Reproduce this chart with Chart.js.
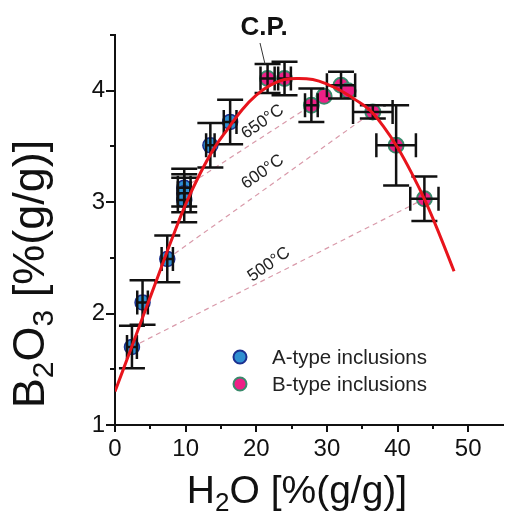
<!DOCTYPE html>
<html>
<head>
<meta charset="utf-8">
<script src="https://cdn.jsdelivr.net/npm/chart.js@4/dist/chart.umd.min.js"></script>
<style>
  html, body { margin:0; padding:0; background:#fff; }
  #wrap { width:513px; height:515px; }
</style>
</head>
<body>
<div id="wrap"><canvas id="c" width="513" height="515"></canvas></div>
<script>
// fitted curve
const curveX = [0,2,4,6,8,10,12,14,16,18,20,22,24,26,28,30,32,34,36,38,40,42,44,46,48];
const curveY = [1.30,1.64,1.98,2.32,2.66,2.98,3.25,3.48,3.66,3.83,3.96,4.05,4.10,4.11,4.10,4.06,4.00,3.92,3.83,3.68,3.49,3.26,3.00,2.70,2.38];

// A-type inclusions
const aX    = [2.4, 3.9, 7.4, 9.8, 9.8, 9.8, 13.5, 16.3];
const aY    = [1.70, 2.10, 2.49, 3.13, 3.08, 3.02, 3.51, 3.72];
const aXErr = [0.7, 0.75, 0.8, 0.9, 0.9, 0.9, 0.6, 0.9];
const aYErr = [0.19, 0.20, 0.21, 0.17, 0.17, 0.20, 0.20, 0.20];

// B-type inclusions
const bX    = [21.6, 24.0, 27.8, 29.6, 32.0, 33.0, 36.5, 39.8, 43.8];
const bY    = [4.11, 4.11, 3.87, 3.95, 4.05, 4.00, 3.81, 3.51, 3.03];
const bXErr = [1.0, 0.9, 0.9, 0, 2.0, 0, 2.8, 2.8, 2.0];
const bYErr = [0.13, 0.15, 0.15, 0, 0.12, 0, 0.06, 0.36, 0.20];

// isotherm tie lines
const isoNames = ['650°C', '600°C', '500°C'];
const iso650X = [9.8, 27.8],  iso650Y = [3.13, 3.87];
const iso600X = [7.4, 36.5],  iso600Y = [2.49, 3.81];
const iso500X = [2.4, 43.8],  iso500Y = [1.70, 3.03];

const xTicks = [0, 10, 20, 30, 40, 50];
const yTicks = [1, 2, 3, 4];

const FONT = '"Liberation Sans", Arial, sans-serif';
const pts = (xs, ys) => xs.map((x, i) => ({ x, y: ys[i] }));

const isoStyle = { borderColor:'#d99aaa', borderWidth:1.2, borderDash:[5,4], pointRadius:0, showLine:true, fill:false };

// error bars for a marker dataset, drawn right after that dataset
const errBars = {
  id:'errBars',
  afterDatasetDraw(chart, args){
    const ds = chart.data.datasets[args.index];
    if (!ds.xErr) return;
    const xs = chart.scales.x, ys = chart.scales.y, ctx = chart.ctx;
    ctx.save();
    ctx.strokeStyle = '#111'; ctx.lineWidth = 2.5;
    ds.data.forEach((p, i) => {
      const px = xs.getPixelForValue(p.x), py = ys.getPixelForValue(p.y);
      const xe = ds.xErr[i], ye = ds.yErr[i];
      ctx.beginPath();
      if (xe > 0) {
        const l = xs.getPixelForValue(p.x - xe), r = xs.getPixelForValue(p.x + xe);
        ctx.moveTo(l, py); ctx.lineTo(r, py);
        ctx.moveTo(l, py - 12); ctx.lineTo(l, py + 12);
        ctx.moveTo(r, py - 12); ctx.lineTo(r, py + 12);
      }
      if (ye > 0) {
        const t = ys.getPixelForValue(p.y + ye), b = ys.getPixelForValue(p.y - ye);
        ctx.moveTo(px, t); ctx.lineTo(px, b);
        ctx.moveTo(px - 13, t); ctx.lineTo(px + 13, t);
        ctx.moveTo(px - 13, b); ctx.lineTo(px + 13, b);
      }
      ctx.stroke();
    });
    ctx.restore();
  }
};

// ticks, titles, labels, legend
const decor = {
  id:'decor',
  afterDraw(chart){
    const ctx = chart.ctx, xs = chart.scales.x, ys = chart.scales.y, ca = chart.chartArea;
    ctx.save();
    ctx.strokeStyle = '#111'; ctx.lineWidth = 2;
    ctx.beginPath();
    for (let v = 1; v <= 4.5; v += 0.5) {
      const py = Math.round(ys.getPixelForValue(v));
      const len = (v % 1 === 0) ? 9 : 5;
      ctx.moveTo(ca.left - len, py); ctx.lineTo(ca.left, py);
    }
    for (let v = 0; v <= 50; v += 5) {
      const px = Math.round(xs.getPixelForValue(v));
      const len = (v % 10 === 0) ? 7 : 4;
      ctx.moveTo(px, ca.bottom); ctx.lineTo(px, ca.bottom + len);
    }
    ctx.stroke();

    // x title
    ctx.fillStyle = '#111';
    drawParts(ctx, [['H', 39, 0], ['2', 26, 8], ['O [%(g/g)]', 39, 0]], 297, 503);

    // y title
    ctx.save();
    ctx.translate(44, 274);
    ctx.rotate(-Math.PI / 2);
    drawParts(ctx, [['B', 45, 0], ['2', 30, 9], ['O', 45, 0], ['3', 30, 9], [' [%(g/g)]', 45, 0]], 0, 0);
    ctx.restore();

    // isotherm labels
    const isoPos = [[20.9, 3.72], [20.9, 3.27], [21.8, 2.44]];
    ctx.font = '17px ' + FONT;
    ctx.textAlign = 'center'; ctx.textBaseline = 'middle';
    ctx.fillStyle = '#222';
    isoNames.forEach((s, i) => {
      ctx.save();
      ctx.translate(xs.getPixelForValue(isoPos[i][0]), ys.getPixelForValue(isoPos[i][1]));
      ctx.rotate(-35 * Math.PI / 180);
      ctx.fillText(s, 0, 0);
      ctx.restore();
    });

    // C.P. callout
    ctx.font = 'bold 26px ' + FONT;
    ctx.fillStyle = '#111';
    ctx.fillText('C.P.', 264, 28);
    ctx.lineWidth = 1; ctx.strokeStyle = '#333';
    ctx.beginPath(); ctx.moveTo(260, 43); ctx.lineTo(265, 64); ctx.stroke();

    // legend
    const leg = [['A-type inclusions', '#2f8fd1', '#1b2f8f'], ['B-type inclusions', '#ee1f86', '#3a8a6c']];
    ctx.font = '20.5px ' + FONT;
    ctx.textAlign = 'left';
    leg.forEach((l, i) => {
      const y = 357 + i * 27;
      ctx.beginPath(); ctx.arc(240, y, 6.5, 0, Math.PI * 2);
      ctx.fillStyle = l[1]; ctx.fill();
      ctx.lineWidth = 2; ctx.strokeStyle = l[2]; ctx.stroke();
      ctx.fillStyle = '#222';
      ctx.fillText(l[0], 272, y + 1);
    });
    ctx.restore();
  }
};

function drawParts(ctx, parts, cx, base){
  let w = 0;
  parts.forEach(p => { ctx.font = p[1] + 'px ' + FONT; w += ctx.measureText(p[0]).width; });
  let x = cx - w / 2;
  ctx.textAlign = 'left'; ctx.textBaseline = 'alphabetic';
  parts.forEach(p => {
    ctx.font = p[1] + 'px ' + FONT;
    ctx.fillText(p[0], x, base + p[2]);
    x += ctx.measureText(p[0]).width;
  });
}

new Chart(document.getElementById('c').getContext('2d'), {
  type:'scatter',
  data:{ datasets:[
    { label:'fit', data:pts(curveX, curveY), showLine:true, borderColor:'#e8141c', borderWidth:3, pointRadius:0, tension:0.4, order:0 },
    { label:'B-type inclusions', data:pts(bX, bY), xErr:bXErr, yErr:bYErr, pointRadius:7.5, backgroundColor:'#ee1f86', borderColor:'#3a8a6c', borderWidth:2, order:2 },
    { label:'A-type inclusions', data:pts(aX, aY), xErr:aXErr, yErr:aYErr, pointRadius:7.5, backgroundColor:'#2f8fd1', borderColor:'#1b2f8f', borderWidth:1.5, order:3 },
    Object.assign({ label:'650', data:pts(iso650X, iso650Y), order:4 }, isoStyle),
    Object.assign({ label:'600', data:pts(iso600X, iso600Y), order:4 }, isoStyle),
    Object.assign({ label:'500', data:pts(iso500X, iso500Y), order:4 }, isoStyle)
  ]},
  options:{
    responsive:false, animation:false, devicePixelRatio:1,
    layout:{ padding:{ top:35, right:0, left:0, bottom:0 } },
    plugins:{ legend:{ display:false }, tooltip:{ enabled:false } },
    scales:{
      x:{ type:'linear', min:0, max:55,
        afterBuildTicks: s => { s.ticks = xTicks.map(v => ({ value:v })); },
        afterFit: s => { s.height = 90; },
        grid:{ display:false, drawTicks:false },
        border:{ display:true, color:'#111', width:2 },
        ticks:{ color:'#111', padding:10, font:{ family:FONT, size:24 }, maxRotation:0, autoSkip:false }
      },
      y:{ type:'linear', min:1, max:4.5,
        afterBuildTicks: s => { s.ticks = yTicks.map(v => ({ value:v })); },
        afterFit: s => { s.width = 115; },
        grid:{ display:false, drawTicks:false },
        border:{ display:true, color:'#111', width:2 },
        ticks:{ color:'#111', padding:10, font:{ family:FONT, size:24 } }
      }
    }
  },
  plugins:[errBars, decor]
});
</script>
</body>
</html>
